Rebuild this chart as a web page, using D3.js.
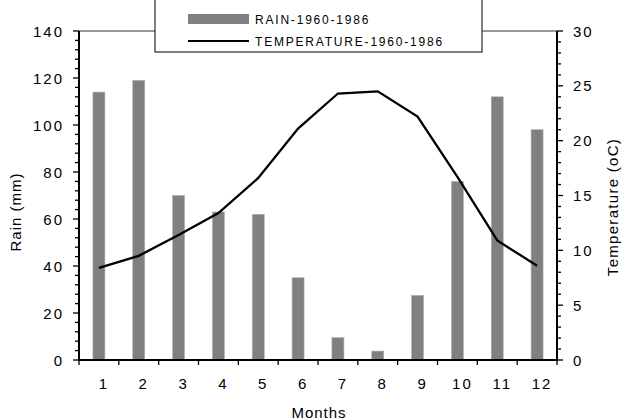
<!DOCTYPE html>
<html><head><meta charset="utf-8">
<script src="https://cdn.jsdelivr.net/npm/d3@7"></script>
<style>
body{margin:0;background:#fff;}
text{font-family:"Liberation Sans",Arial,sans-serif;fill:#000;}
</style></head>
<body><svg id="c" width="626" height="420"></svg>
<script>
const months = ["1","2","3","4","5","6","7","8","9","10","11","12"];
const rain = [114, 119, 70, 63, 62, 35, 9.5, 3.8, 27.5, 76, 112, 98];
const temperature = [8.4, 9.5, 11.4, 13.4, 16.6, 21.1, 24.3, 24.5, 22.2, 16.7, 10.9, 8.6];
const rainTicks = [0, 20, 40, 60, 80, 100, 120, 140];
const tempTicks = [0, 5, 10, 15, 20, 25, 30];
const legendLabels = ["RAIN-1960-1986", "TEMPERATURE-1960-1986"];

const svg = d3.select("#c");
const L = 79, R = 557, T = 31, B = 360;
const x = d3.scaleBand().domain(months).range([L, R]);
const yR = d3.scaleLinear().domain([0, 140]).range([B, T]);
const yT = d3.scaleLinear().domain([0, 30]).range([B, T]);

// top border
svg.append("line").attr("x1", L).attr("x2", R).attr("y1", T).attr("y2", T)
  .attr("stroke", "#9a9a9a").attr("stroke-width", 2);

// bars
svg.append("g").selectAll("rect").data(rain).join("rect")
  .attr("x", (d, i) => x(months[i]) + x.bandwidth() / 2 - 6)
  .attr("width", 12)
  .attr("y", d => yR(d))
  .attr("height", d => B - yR(d))
  .attr("fill", "#808080").attr("stroke", "#b0b0b0").attr("stroke-width", 0.6);

// line
const line = d3.line().x((d, i) => x(months[i]) + x.bandwidth() / 2).y(d => yT(d));
svg.append("path").datum(temperature).attr("d", line)
  .attr("fill", "none").attr("stroke", "#000").attr("stroke-width", 2.3);

// left axis
const gl = svg.append("g");
gl.append("line").attr("x1", L).attr("x2", L).attr("y1", T).attr("y2", B).attr("stroke", "#000").attr("stroke-width", 2);
d3.range(0, 141, 4).forEach(v => {
  const major = v % 20 === 0;
  gl.append("line").attr("x1", L - (major ? 6 : 4)).attr("x2", L).attr("y1", yR(v)).attr("y2", yR(v))
    .attr("stroke", "#000").attr("stroke-width", 1.3);
});
gl.selectAll("text").data(rainTicks).join("text")
  .attr("x", 64).attr("y", d => yR(d) + 5.5).attr("text-anchor", "end")
  .attr("font-size", 15).attr("letter-spacing", 2).text(d => d);

// right axis
const gr = svg.append("g");
gr.append("line").attr("x1", R).attr("x2", R).attr("y1", T).attr("y2", B).attr("stroke", "#000").attr("stroke-width", 2);
d3.range(0, 31, 1).forEach(v => {
  const major = v % 5 === 0;
  gr.append("line").attr("x1", R).attr("x2", R + (major ? 6 : 4)).attr("y1", yT(v)).attr("y2", yT(v))
    .attr("stroke", "#000").attr("stroke-width", 1.3);
});
gr.selectAll("text").data(tempTicks).join("text")
  .attr("x", 573).attr("y", d => yT(d) + 5.5)
  .attr("font-size", 15).attr("letter-spacing", 2).text(d => d);

// bottom axis
const gb = svg.append("g");
gb.append("line").attr("x1", L - 1).attr("x2", R + 1).attr("y1", B).attr("y2", B).attr("stroke", "#000").attr("stroke-width", 2);
d3.range(0, 13).forEach(i => {
  const xx = L + i * x.step();
  gb.append("line").attr("x1", xx).attr("x2", xx).attr("y1", B).attr("y2", B + 5).attr("stroke", "#000").attr("stroke-width", 1.3);
});
gb.selectAll("text").data(months).join("text")
  .attr("x", d => x(d) + x.bandwidth() / 2 + 5).attr("y", 389).attr("text-anchor", "middle")
  .attr("font-size", 15).attr("letter-spacing", 2).text(d => d);

// axis titles
svg.append("text").attr("x", 319).attr("y", 418).attr("text-anchor", "middle")
  .attr("font-size", 15).attr("letter-spacing", 1).text("Months");
svg.append("text").attr("transform", "translate(21,212) rotate(-90)").attr("text-anchor", "middle")
  .attr("font-size", 15).attr("letter-spacing", 1).text("Rain (mm)");
svg.append("text").attr("transform", "translate(618,207) rotate(-90)").attr("text-anchor", "middle")
  .attr("font-size", 15).attr("letter-spacing", 1.3).text("Temperature (oC)");

// legend
const lg = svg.append("g");
lg.append("rect").attr("x", 155).attr("y", -5).attr("width", 327).attr("height", 57)
  .attr("fill", "#fff").attr("stroke", "#000").attr("stroke-width", 1);
lg.append("rect").attr("x", 188).attr("y", 14).attr("width", 61).attr("height", 10).attr("fill", "#808080");
lg.append("line").attr("x1", 188).attr("x2", 249).attr("y1", 41).attr("y2", 41).attr("stroke", "#000").attr("stroke-width", 2);
lg.selectAll("text").data(legendLabels).join("text")
  .attr("x", 255).attr("y", (d, i) => 24 + i * 22)
  .attr("font-size", 12).attr("letter-spacing", 1.8).text(d => d);
</script></body></html>
